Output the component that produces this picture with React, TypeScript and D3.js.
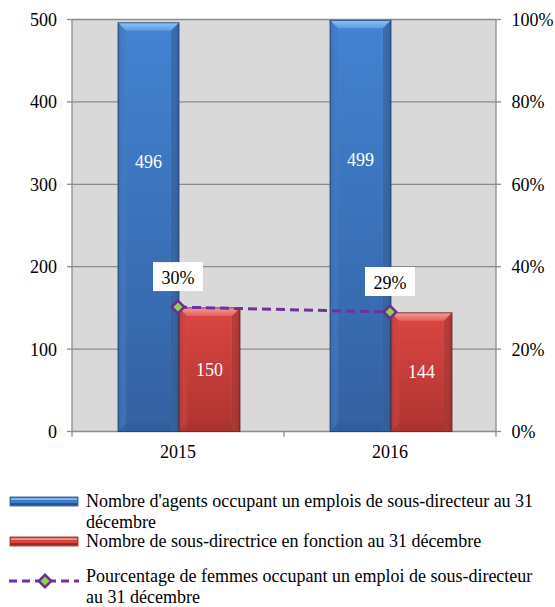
import React from "react";
import * as d3 from "d3";

const categories = ["2015", "2016"];
const agents = [496, 499];
const sousDirectrices = [150, 144];
const pourcentage = [0.302, 0.29];
const pctLabels = ["30%", "29%"];
const leftTicks = [0, 100, 200, 300, 400, 500];
const rightTicks = [0, 0.2, 0.4, 0.6, 0.8, 1];
const legendLabels = [
  ["Nombre d'agents occupant un emplois de sous-directeur au 31", "décembre"],
  ["Nombre de sous-directrice en fonction au 31 décembre"],
  ["Pourcentage de femmes occupant un emploi de sous-directeur", "au 31 décembre"],
];

const W = 555, H = 607;
const L = 72, R = 496, T = 19.5, B = 431.5;
const FONT = "Liberation Serif";
const FS = 18;

function Bar({ x, y, w, h, kind }: { x: number; y: number; w: number; h: number; kind: "blue" | "red" }) {
  const bev = Math.min(8, h / 2);
  const id = kind;
  const edge = kind === "blue" ? "#1f3f6e" : "#6e1f1c";
  return (
    <g>
      <rect x={x} y={y} width={w} height={h} fill={`url(#${id}-v)`} />
      <rect x={x} y={y} width={w} height={h} fill={`url(#${id}-h)`} />
      <path d={`M${x},${y} L${x + w},${y} L${x + w - bev},${y + bev} L${x + bev},${y + bev} Z`} fill={`url(#${id}-top)`} />
      <path d={`M${x},${y} L${x + bev},${y + bev} L${x + bev},${y + h - bev} L${x},${y + h} Z`} fill={kind === "blue" ? "#3c72bb" : "#c93c38"} opacity={0.55} />
      <path d={`M${x + w},${y} L${x + w - bev},${y + bev} L${x + w - bev},${y + h - bev} L${x + w},${y + h} Z`} fill={kind === "blue" ? "#2b568f" : "#9c2f2b"} opacity={0.55} />
      <path d={`M${x},${y + h} L${x + bev},${y + h - bev} L${x + w - bev},${y + h - bev} L${x + w},${y + h} Z`} fill={kind === "blue" ? "#2d5c98" : "#a8312d"} opacity={0.6} />
      <rect x={x} y={y} width={w} height={h} fill="none" stroke={edge} strokeWidth={0.8} />
    </g>
  );
}

function LegendSwatch({ x, y, w, h, kind }: { x: number; y: number; w: number; h: number; kind: "blue" | "red" }) {
  const top = kind === "blue" ? "#7fb4ee" : "#f08a86";
  const mid = kind === "blue" ? "#3f7cc8" : "#d9453f";
  const bot = kind === "blue" ? "#1f4a85" : "#8a2421";
  return (
    <g>
      <rect x={x} y={y} width={w} height={h} fill={mid} stroke={bot} strokeWidth={0.8} />
      <rect x={x + 1} y={y + 1} width={w - 2} height={2} fill={top} />
      <rect x={x + 1} y={y + h - 3} width={w - 2} height={2} fill={bot} opacity={0.8} />
    </g>
  );
}

function Diamond({ x, y }: { x: number; y: number }) {
  return (
    <g>
      <path d={`M${x},${y - 8} L${x + 8},${y} L${x},${y + 8} L${x - 8},${y} Z`} fill="#6a2c91" />
      <path d={`M${x},${y - 4.5} L${x + 4.5},${y} L${x},${y + 4.5} L${x - 4.5},${y} Z`} fill="#92d050" />
    </g>
  );
}

export default function App() {
  const x0 = d3.scaleBand<string>().domain(categories).range([L, R]).padding(0);
  const x1 = d3.scaleBand<string>().domain(["agents", "sd"]).range([46, 168]).padding(0);
  const y = d3.scaleLinear().domain([0, 500]).range([B, T]);
  const yR = d3.scaleLinear().domain([0, 1]).range([B, T]);
  const cx = (c: string) => (x0(c) as number) + x0.bandwidth() / 2;

  const line = d3
    .line<number>()
    .x((_, i) => cx(categories[i]))
    .y((d) => yR(d));

  const bw = x1.bandwidth();

  return (
    <svg width={W} height={H} style={{ position: "absolute", left: 0, top: 0 }}>
      <defs>
        <linearGradient id="blue-v" x1="0" y1="0" x2="0" y2="1">
          <stop offset="0" stopColor="#4283d2" />
          <stop offset="1" stopColor="#3461a2" />
        </linearGradient>
        <linearGradient id="blue-h" x1="0" y1="0" x2="1" y2="0">
          <stop offset="0" stopColor="#1d3d6b" stopOpacity={0.35} />
          <stop offset="0.15" stopColor="#ffffff" stopOpacity={0} />
          <stop offset="0.85" stopColor="#ffffff" stopOpacity={0} />
          <stop offset="1" stopColor="#1d3d6b" stopOpacity={0.35} />
        </linearGradient>
        <linearGradient id="blue-top" x1="0" y1="0" x2="0" y2="1">
          <stop offset="0" stopColor="#8cc2f7" />
          <stop offset="1" stopColor="#5c9be2" />
        </linearGradient>
        <linearGradient id="red-v" x1="0" y1="0" x2="0" y2="1">
          <stop offset="0" stopColor="#dc4642" />
          <stop offset="1" stopColor="#ad3431" />
        </linearGradient>
        <linearGradient id="red-h" x1="0" y1="0" x2="1" y2="0">
          <stop offset="0" stopColor="#5e1512" stopOpacity={0.35} />
          <stop offset="0.15" stopColor="#ffffff" stopOpacity={0} />
          <stop offset="0.85" stopColor="#ffffff" stopOpacity={0} />
          <stop offset="1" stopColor="#5e1512" stopOpacity={0.35} />
        </linearGradient>
        <linearGradient id="red-top" x1="0" y1="0" x2="0" y2="1">
          <stop offset="0" stopColor="#f49a96" />
          <stop offset="1" stopColor="#e3625e" />
        </linearGradient>
      </defs>

      <rect x={L} y={T} width={R - L} height={B - T} fill="#d9d9d9" />
      {leftTicks.map((t) => (
        <line key={"g" + t} x1={L} x2={R} y1={y(t)} y2={y(t)} stroke="#8c8c8c" strokeWidth={1.3} />
      ))}
      <line x1={L} x2={L} y1={T} y2={B} stroke="#8c8c8c" strokeWidth={1.3} />
      <line x1={R} x2={R} y1={T} y2={B} stroke="#8c8c8c" strokeWidth={1.3} />
      {[L, L + x0.step(), R].map((xx, i) => (
        <line key={"xt" + i} x1={xx} x2={xx} y1={B} y2={B + 5} stroke="#8c8c8c" strokeWidth={1.3} />
      ))}
      {leftTicks.map((t) => (
        <line key={"ltk" + t} x1={L - 5} x2={L} y1={y(t)} y2={y(t)} stroke="#8c8c8c" strokeWidth={1.3} />
      ))}
      {rightTicks.map((t) => (
        <line key={"rtk" + t} x1={R} x2={R + 5} y1={yR(t)} y2={yR(t)} stroke="#8c8c8c" strokeWidth={1.3} />
      ))}

      {categories.map((c, i) => {
        const xa = (x0(c) as number) + (x1("agents") as number);
        const xs = (x0(c) as number) + (x1("sd") as number);
        return (
          <g key={"b" + c}>
            <Bar x={xa} y={y(agents[i])} w={bw} h={B - y(agents[i])} kind="blue" />
            <Bar x={xs} y={y(sousDirectrices[i])} w={bw} h={B - y(sousDirectrices[i])} kind="red" />
          </g>
        );
      })}

      <path d={line(pourcentage) as string} fill="none" stroke="#7030a0" strokeWidth={3} strokeDasharray="9,5" />
      {pourcentage.map((p, i) => {
        const px = cx(categories[i]);
        const py = yR(p);
        return (
          <g key={"m" + i}>
            <Diamond x={px} y={py} />
            <rect x={px - 25} y={py - 45} width={50} height={29} fill="#fff" />
          </g>
        );
      })}

      <LegendSwatch x={10} y={497} w={68} h={9} kind="blue" />
      <LegendSwatch x={10} y={537} w={68} h={9} kind="red" />
      <line x1={9} x2={79} y1={581} y2={581} stroke="#7030a0" strokeWidth={3} strokeDasharray="8,5" />
      <Diamond x={45} y={581} />

      <g fontFamily={FONT} fontSize={FS} fill="#000">
        {leftTicks.map((t) => (
          <text key={"lt" + t} x={57} y={y(t) + 6.5} textAnchor="end">{t}</text>
        ))}
        {rightTicks.map((t) => (
          <text key={"rt" + t} x={511.5} y={yR(t) + 6.5}>{d3.format(".0%")(t)}</text>
        ))}
        {categories.map((c) => (
          <text key={"xl" + c} x={cx(c)} y={458} textAnchor="middle">{c}</text>
        ))}
        {categories.map((c, i) => {
          const xa = (x0(c) as number) + (x1("agents") as number);
          const xs = (x0(c) as number) + (x1("sd") as number);
          return (
            <g key={"bl" + c} fill="#fff">
              <text x={xa + bw / 2} y={y(agents[i] * 0.66) + 6} textAnchor="middle">{agents[i]}</text>
              <text x={xs + bw / 2} y={(y(sousDirectrices[i]) + B) / 2 + 6} textAnchor="middle">{sousDirectrices[i]}</text>
            </g>
          );
        })}
        {pourcentage.map((p, i) => (
          <text key={"pl" + i} x={cx(categories[i])} y={yR(p) - 23} textAnchor="middle">{pctLabels[i]}</text>
        ))}
        <text x={86} y={507}>{legendLabels[0][0]}</text>
        <text x={86} y={528}>{legendLabels[0][1]}</text>
        <text x={86} y={547}>{legendLabels[1][0]}</text>
        <text x={86} y={581.5}>{legendLabels[2][0]}</text>
        <text x={86} y={602.5}>{legendLabels[2][1]}</text>
      </g>
    </svg>
  );
}
